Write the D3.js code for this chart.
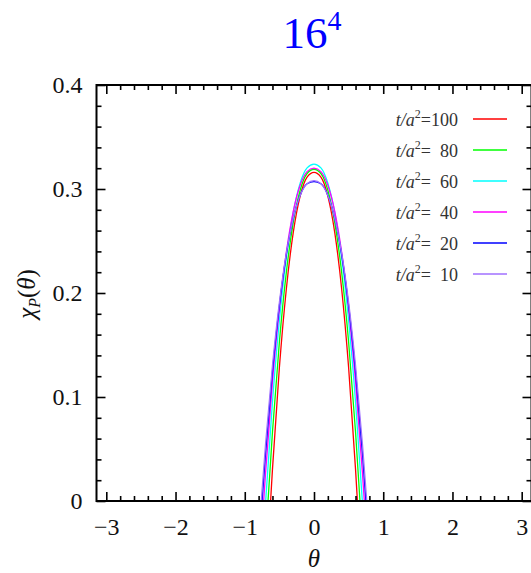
<!DOCTYPE html>
<html>
<head>
<meta charset="utf-8">
<script src="https://cdn.jsdelivr.net/npm/d3@7"></script>
<style>
  body { margin: 0; background: #fff; }
  svg { display: block; }
</style>
</head>
<body>
<svg id="chart" width="531" height="573"></svg>
<script>
const svg = d3.select('#chart')
const font = 'Liberation Serif, Times New Roman, serif'

// legend labels (flow time) and colours
const flowTimes = ['100', '80', '60', '40', '20', '10']
const colors = ['#ff0000', '#00ff00', '#00ffff', '#ff00ff', '#0000ff', '#a070ff']

// theta / chi_P values, one pair of arrays per curve
const theta100 = [-0.627, -0.6, -0.5, -0.4, -0.3, -0.2, -0.1, 0, 0.1, 0.2, 0.3, 0.4, 0.5, 0.6, 0.627]
const chi100 = [0, 0.0304, 0.1283, 0.2036, 0.2580, 0.2932, 0.3114, 0.316, 0.3114, 0.2932, 0.2580, 0.2036, 0.1283, 0.0304, 0]

const theta80 = [-0.664, -0.6, -0.5, -0.4, -0.3, -0.2, -0.1, 0, 0.1, 0.2, 0.3, 0.4, 0.5, 0.6, 0.664]
const chi80 = [0, 0.0664, 0.1529, 0.2196, 0.2677, 0.2988, 0.3149, 0.319, 0.3149, 0.2988, 0.2677, 0.2196, 0.1529, 0.0664, 0]

const theta60 = [-0.698, -0.6, -0.5, -0.4, -0.3, -0.2, -0.1, 0, 0.1, 0.2, 0.3, 0.4, 0.5, 0.6, 0.698]
const chi60 = [0, 0.0952, 0.1736, 0.2340, 0.2775, 0.3057, 0.3203, 0.324, 0.3203, 0.3057, 0.2775, 0.2340, 0.1736, 0.0952, 0]

const theta40 = [-0.727, -0.7, -0.6, -0.5, -0.4, -0.3, -0.2, -0.1, 0, 0.1, 0.2, 0.3, 0.4, 0.5, 0.6, 0.7, 0.727]
const chi40 = [0, 0.0267, 0.1142, 0.1847, 0.2390, 0.2782, 0.3036, 0.3167, 0.320, 0.3167, 0.3036, 0.2782, 0.2390, 0.1847, 0.1142, 0.0267, 0]

const theta20 = [-0.75, -0.7, -0.6, -0.5, -0.4, -0.3, -0.2, -0.1, 0, 0.1, 0.2, 0.3, 0.4, 0.5, 0.6, 0.7, 0.75]
const chi20 = [0, 0.0455, 0.1244, 0.1880, 0.2365, 0.2715, 0.2940, 0.3050, 0.307, 0.3050, 0.2940, 0.2715, 0.2365, 0.1880, 0.1244, 0.0455, 0]

const theta10 = [-0.762, -0.7, -0.6, -0.5, -0.4, -0.3, -0.2, -0.1, 0, 0.1, 0.2, 0.3, 0.4, 0.5, 0.6, 0.7, 0.762]
const chi10 = [0, 0.0546, 0.1303, 0.1911, 0.2381, 0.2719, 0.2938, 0.3051, 0.308, 0.3051, 0.2938, 0.2719, 0.2381, 0.1911, 0.1303, 0.0546, 0]

const thetas = [theta100, theta80, theta60, theta40, theta20, theta10]
const chis = [chi100, chi80, chi60, chi40, chi20, chi10]

// ticks
const xMajor = [-3, -2, -1, 0, 1, 2, 3]
const yMajor = [0, 0.1, 0.2, 0.3, 0.4]

const pLeft = 96.5, pRight = 531.5, pTop = 85, pBottom = 501

const x = d3.scaleLinear().domain([-Math.PI, Math.PI]).range([pLeft, pRight])
const y = d3.scaleLinear().domain([0, 0.4]).range([pBottom, pTop])

const xMinor = d3.range(-3.0, 3.01, 0.2).filter(v => Math.abs(v - Math.round(v)) > 1e-6)
const yMinor = d3.range(0, 0.401, 0.02).filter(v => Math.abs(v * 10 - Math.round(v * 10)) > 1e-6)

// clip
svg.append('clipPath').attr('id', 'clip')
	.append('rect')
	.attr('x', pLeft).attr('y', pTop)
	.attr('width', pRight - pLeft).attr('height', pBottom - pTop)

// curves
const line = d3.line()
	.x(d => x(d[0]))
	.y(d => y(d[1]))
	.curve(d3.curveMonotoneX)

const curves = svg.append('g').attr('clip-path', 'url(#clip)')
thetas.forEach((t, i) => {
	curves.append('path')
		.datum(t.map((v, j) => [v, chis[i][j]]))
		.attr('d', line)
		.attr('fill', 'none')
		.attr('stroke', colors[i])
		.attr('stroke-width', 1.3)
})

// axes (ticks inward)
const fmtX = d => d < 0 ? '\u2212' + Math.abs(d) : String(d)
const fmtY = d => d === 0 ? '0' : d3.format('.1f')(d)

const axes = svg.append('g')

axes.append('g')
	.attr('transform', `translate(0,${pBottom})`)
	.call(d3.axisBottom(x).tickValues(xMajor).tickSize(-9).tickPadding(17).tickFormat(fmtX))
axes.append('g')
	.attr('transform', `translate(0,${pBottom})`)
	.call(d3.axisBottom(x).tickValues(xMinor).tickSize(-5).tickFormat(''))
axes.append('g')
	.attr('transform', `translate(0,${pTop})`)
	.call(d3.axisTop(x).tickValues(xMajor).tickSize(-9).tickFormat(''))
axes.append('g')
	.attr('transform', `translate(0,${pTop})`)
	.call(d3.axisTop(x).tickValues(xMinor).tickSize(-5).tickFormat(''))

axes.append('g')
	.attr('transform', `translate(${pLeft},0)`)
	.call(d3.axisLeft(y).tickValues(yMajor).tickSize(-9).tickPadding(14).tickFormat(fmtY))
axes.append('g')
	.attr('transform', `translate(${pLeft},0)`)
	.call(d3.axisLeft(y).tickValues(yMinor).tickSize(-5).tickFormat(''))
axes.append('g')
	.attr('transform', `translate(${pRight},0)`)
	.call(d3.axisRight(y).tickValues(yMajor).tickSize(-9).tickFormat(''))
axes.append('g')
	.attr('transform', `translate(${pRight},0)`)
	.call(d3.axisRight(y).tickValues(yMinor).tickSize(-5).tickFormat(''))

axes.selectAll('path.domain').remove()
axes.selectAll('.tick line')
	.attr('stroke', '#000')
	.attr('stroke-width', 1.6)
axes.selectAll('.tick text')
	.attr('fill', '#111')
	.style('font-family', font)
	.style('font-size', '24px')

// frame
svg.append('rect')
	.attr('x', pLeft).attr('y', pTop)
	.attr('width', pRight - pLeft).attr('height', pBottom - pTop)
	.attr('fill', 'none')
	.attr('stroke', '#000')
	.attr('stroke-width', 2)

// title
const title = svg.append('text')
	.attr('x', 312).attr('y', 48)
	.attr('text-anchor', 'middle')
	.attr('fill', '#0000ff')
	.style('font-family', font)
	.style('font-size', '45px')
title.append('tspan').text('16')
title.append('tspan').attr('dy', -18).style('font-size', '28px').text('4')

// axis labels
svg.append('text')
	.attr('x', 314).attr('y', 567)
	.attr('text-anchor', 'middle')
	.attr('fill', '#111')
	.style('font-family', font)
	.style('font-size', '25px')
	.style('font-style', 'italic')
	.text('θ')

const ylab = svg.append('text')
	.attr('transform', 'translate(35,294) rotate(-90)')
	.attr('text-anchor', 'middle')
	.attr('fill', '#111')
	.style('font-family', font)
	.style('font-size', '25px')
ylab.append('tspan').style('font-style', 'italic').text('χ')
ylab.append('tspan').attr('dy', 5).style('font-style', 'italic').style('font-size', '16px').text('P')
ylab.append('tspan').attr('dy', -5).text('(')
ylab.append('tspan').style('font-style', 'italic').text('θ')
ylab.append('tspan').text(')')

// legend
const legend = svg.append('g')
flowTimes.forEach((ft, i) => {
	const ly = 119 + i * 31
	legend.append('line')
		.attr('x1', 473).attr('x2', 507)
		.attr('y1', ly).attr('y2', ly)
		.attr('stroke', colors[i])
		.attr('stroke-width', 1.3)
	const t = legend.append('text')
		.attr('x', 458).attr('y', ly + 7)
		.attr('text-anchor', 'end')
		.attr('fill', '#333')
		.style('font-family', font)
		.style('font-size', '18px')
	t.append('tspan').style('font-style', 'italic').text('t/a')
	t.append('tspan').attr('dy', -8).style('font-size', '12px').text('2')
	t.append('tspan').attr('dy', 8).text(ft.length < 3 ? '=\u2007' + ft : '=' + ft)
})
</script>
</body>
</html>
